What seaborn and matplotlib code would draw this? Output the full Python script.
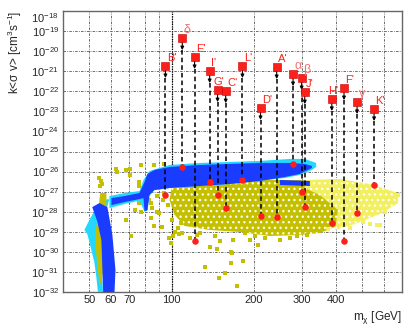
import numpy as np
import pandas as pd
import seaborn as sns
import matplotlib
matplotlib.use("Agg")
import matplotlib.pyplot as plt
from matplotlib.ticker import LogLocator, NullFormatter, FixedLocator

# benchmark points: mass [GeV], upper limit and predicted log10(k<sigma v>)
bench_names = ["B'", "δ", "E'", "I'", "G'", "C'", "L'", "D'", "A'", "α", "β", "J'", "H'", "F'", "γ", "K'"]
bench_mass = [95, 109.5, 121.5, 138, 147.5, 158, 182, 212, 243, 279, 300, 308, 387, 429, 479, 553]
bench_limit = [-20.74, -19.35, -20.29, -20.99, -21.94, -21.99, -20.74, -22.83, -20.79,
               -21.14, -21.34, -22.04, -22.38, -21.84, -22.53, -22.88]
bench_pred = [-27.17, -25.77, -29.46, -26.52, -27.17, -27.82, -26.42, -28.21, -28.26,
              -25.62, -27.02, -27.77, -28.56, -29.46, -28.06, -26.67]

# scan regions (outlines), log10(k<sigma v>)
cyan_band_mass = [59.2, 67.2, 76.3, 78.9, 83.0, 98.3, 126.8, 210.7, 271.5, 308, 339,
                  339, 327, 295.6, 260.3, 163.4, 98.3, 86.6, 83.0, 81.6, 79.6, 76.3, 67.2, 59.2]
cyan_band_logsv = [-27.22, -27.07, -26.97, -26.42, -25.97, -25.67, -25.57, -25.47, -25.37, -25.37, -25.57,
                   -25.77, -25.92, -26.17, -26.32, -26.62, -26.82, -26.92, -27.2, -27.95, -28.0, -27.45, -27.62, -27.82]

blue_band_mass = [60.2, 67.2, 76.3, 79.6, 81.6, 86.6, 98.3, 126.8, 163.4, 210.7, 271.5, 308, 327,
                  327, 295.6, 260.3, 210.7, 163.4, 126.8, 98.3, 86.6, 83.0, 81.6, 79.6, 78.9, 76.3, 67.2, 60.2]
blue_band_logsv = [-27.32, -27.22, -27.07, -26.52, -26.12, -25.92, -25.77, -25.67, -25.62, -25.57, -25.57, -25.62, -25.72,
                   -25.82, -26.12, -26.27, -26.47, -26.62, -26.72, -26.82, -26.92, -27.17, -27.92, -27.97, -27.32, -27.37, -27.52, -27.67]

blue_strip_mass = [249.5, 321.6, 321.6, 249.5]
blue_strip_logsv = [-26.42, -26.47, -26.72, -26.67]

cyan_funnel_mass = [47.9, 50.0, 53.0, 55.8, 59.2, 58.2, 54.8, 55.3, 56.2, 53.9, 53.0, 52.1, 50.0, 49.1]
cyan_funnel_logsv = [-28.91, -28.41, -27.77, -27.42, -27.37, -27.72, -28.66, -30.5, -32.2,
                     -32.2, -31.25, -30.51, -29.51, -29.11]

blue_funnel_mass = [51.2, 54.4, 58.2, 60.7, 62.3, 61.7, 56.2, 55.8, 55.3, 53.5]
blue_funnel_logsv = [-27.77, -27.57, -27.77, -29.16, -30.91, -32.2, -32.2, -30.91, -29.41, -28.51]

yellow_funnel_mass = [54.8, 57.7, 57.7, 55.8, 55.8, 56.2, 55.3, 54.4, 53.5, 52.6, 52.6, 53.9, 54.4]
yellow_funnel_logsv = [-27.07, -27.07, -27.92, -28.66, -29.91, -30.91, -31.55, -31.55, -30.66, -29.66,
                       -29.01, -28.16, -27.42]

yellow_core_mass = [100, 126.8, 210.7, 295.6, 350.1, 414.6, 432.5, 414.6, 350.1, 295.6, 229.3,
                    177.8, 137.9, 111.6, 102.6, 98.3]
yellow_core_logsv = [-26.82, -26.67, -26.42, -26.42, -26.52, -26.72, -27.42, -28.66, -29.06, -29.16, -29.21,
                     -29.01, -28.91, -28.71, -28.16, -27.42]

pale_core_mass = [308, 414.6, 534.6, 677.5, 677.5, 581.6, 470.8, 397.6, 407.8, 350.1, 308]
pale_core_logsv = [-26.42, -26.37, -26.62, -27.07, -27.57, -28.11, -28.61, -28.91, -27.92, -27.17, -26.82]

yellow_pts_mass = [54.4, 55.3, 55.8, 54.8, 62.8, 63.3, 68.3, 70.7, 70.7, 77.6, 76.3, 76.3, 86.6, 94.2,
                   68.3, 71.3, 75.0, 77.6, 84.4, 85.1, 86.6, 83.0, 90.3, 91.9, 98.3, 100, 105.2, 99.2,
                   100.9, 106.1, 107.9, 109.7, 123.6,
                   132.2, 137.9, 146.3, 150.1, 148.9, 156.6, 164.8, 164.8, 173.4, 182.4, 166.2, 185.5,
                   207.1, 167.6, 193.6, 219.8, 249.5, 288.2, 313.6, 271.5,
                   83.0, 80.9, 88.1, 92.7, 96.7, 88.8, 94.2, 84.4, 79.6, 73.7, 76.3, 102.6, 116.5,
                   126.8, 143.9, 202.0]
yellow_pts_logsv = [-26.32, -26.47, -26.62, -26.72, -25.87, -26.02, -25.92, -25.87, -26.17, -25.67, -26.52, -26.72, -25.67, -25.62,
                    -28.41, -29.21, -27.27, -28.02, -28.31, -27.82, -28.71, -27.42, -28.06, -28.76, -29.31, -28.41, -28.81, -29.56,
                    -29.21, -29.11, -28.56, -29.06, -29.16,
                    -30.76, -29.76, -29.86, -29.46, -31.30, -31.05, -30.01, -30.56, -31.70, -30.46, -30.06, -29.06,
                    -29.66, -29.41, -29.41, -29.31, -29.41, -29.21, -29.16, -29.31,
                    -26.92, -27.67, -27.22, -27.42, -27.67, -28.02, -27.07, -27.57, -27.17, -27.92, -27.57, -29.01, -29.31,
                    -29.06, -29.21, -29.21]

pale_pts_mass = [374.6, 459.0, 503.7, 534.6, 567.1, 581.6, 606.8, 644.0, 677.5, 451.2]
pale_pts_logsv = [-28.86, -28.41, -28.51, -28.61, -28.66, -28.66, -28.02, -27.52, -27.17, -28.81]

xtick_vals = [50, 60, 70, 100, 200, 300, 400]
xgrid_minor = [80, 90, 500, 600]
ytick_vals = [10.0 ** e for e in range(-32, -17)]

# colours
BLUE = "#1a3cff"
CYAN = "#22d8ff"
OLIVE = "#c4c000"
PALE = "#f2f060"
RED = "#ff1f1a"
PINK = "#f27070"

sns.set_style("white")
plt.rcParams['font.family'] = ['Liberation Sans', 'DejaVu Sans']
plt.rcParams['mathtext.fontset'] = 'custom'
plt.rcParams['mathtext.rm'] = 'Liberation Sans'
plt.rcParams['mathtext.it'] = 'Liberation Sans:italic'
plt.rcParams['mathtext.default'] = 'regular'
plt.rcParams['hatch.linewidth'] = 0.9

fig = plt.figure(figsize=(4.15, 3.29), dpi=100)
ax = fig.add_axes([63 / 415, 37 / 329, 339 / 415, 281 / 329])
ax.set_xscale('log')
ax.set_yscale('log')
ax.set_xlim(40, 700)
ax.set_ylim(1e-32, 1e-18)


def region(m, lg, color, z, speckle=False):
    if speckle:
        # scattered look of the dense point clouds
        ax.fill(m, 10 ** np.array(lg), facecolor=color, edgecolor='white', hatch='...', lw=0, zorder=z)
    else:
        ax.fill(m, 10 ** np.array(lg), color=color, lw=0, zorder=z)


# yellow scan points
region(yellow_core_mass, yellow_core_logsv, OLIVE, 2, speckle=True)
region(pale_core_mass, pale_core_logsv, PALE, 2.1, speckle=True)
yel = pd.DataFrame({'m': yellow_pts_mass, 'sv': 10 ** np.array(yellow_pts_logsv)})
sns.scatterplot(data=yel, x='m', y='sv', marker='s', s=6, color=OLIVE, linewidth=0, zorder=2.2, ax=ax)
pale = pd.DataFrame({'m': pale_pts_mass, 'sv': 10 ** np.array(pale_pts_logsv)})
sns.scatterplot(data=pale, x='m', y='sv', marker='s', s=6, color=PALE, linewidth=0, zorder=2.2, ax=ax)

# blue / cyan scan points
region(cyan_band_mass, cyan_band_logsv, CYAN, 3)
region(cyan_funnel_mass, cyan_funnel_logsv, CYAN, 3)
region(yellow_funnel_mass, yellow_funnel_logsv, OLIVE, 3.1)
region(blue_band_mass, blue_band_logsv, BLUE, 3.2)
region(blue_strip_mass, blue_strip_logsv, BLUE, 3.2)
region(blue_funnel_mass, blue_funnel_logsv, BLUE, 3.2)

# benchmark points
label_shift = {"G'": -4, "H'": -4}   # px, to keep neighbouring labels apart
bench = pd.DataFrame({'name': bench_names, 'm': bench_mass,
                      'lim': 10 ** np.array(bench_limit), 'pred': 10 ** np.array(bench_pred)})
for _, r in bench.iterrows():
    tip = r['lim'] * 10 ** -0.6
    ax.plot([r['m'], r['m']], [tip, r['pred']], color='k', ls=(0, (3, 2)), lw=1.1, zorder=5)
    ax.annotate('', xy=(r['m'], tip), xytext=(r['m'], r['lim']),
                arrowprops=dict(arrowstyle='-|>', color='k', lw=0.8, mutation_scale=5,
                                shrinkA=0, shrinkB=0), zorder=6)
    greek = not r['name'].endswith("'")
    dx = label_shift.get(r['name'], 1.5) * 0.72
    ax.annotate(r['name'], (r['m'], r['lim']), xytext=(dx, 6), textcoords='offset points',
                ha='left', va='center', color=PINK if greek else RED,
                fontsize=9 if greek else 8, zorder=9)

sns.scatterplot(data=bench, x='m', y='pred', marker='o', s=22, color=RED, linewidth=0, zorder=8, ax=ax)
sns.scatterplot(data=bench, x='m', y='lim', marker='s', s=26, color=RED, edgecolor='#c00000',
                linewidth=0.4, zorder=8, ax=ax)

# 100 GeV reference line
ax.axvline(100, color='k', ls=(0, (1, 1)), lw=0.9, zorder=1.5)

# axes, ticks, grid
ax.set_xticks(xtick_vals, labels=[str(v) for v in xtick_vals])
ax.set_xticks(xgrid_minor, minor=True)
ax.xaxis.set_minor_formatter(NullFormatter())
ax.yaxis.set_major_locator(FixedLocator(ytick_vals))
ax.yaxis.set_minor_locator(LogLocator(base=10, subs=np.arange(2, 10) * 1.0, numticks=200))
ax.yaxis.set_minor_formatter(NullFormatter())

gridstyle = dict(color='#555555', ls=(0, (3, 1.5, 1, 1.5)), lw=0.6)
ax.grid(True, axis='x', which='both', **gridstyle)
ax.grid(True, axis='y', which='major', **gridstyle)
ax.set_axisbelow(True)

ax.tick_params(axis='both', which='both', direction='in', color='#777777', labelsize=8, pad=2)
ax.tick_params(axis='both', which='major', length=6)
ax.tick_params(axis='both', which='minor', length=3)
ax.tick_params(axis='y', which='major', pad=3)
for sp in ax.spines.values():
    sp.set_color('#666666')
    sp.set_linewidth(1)

ax.set_ylabel("k<σ v> [cm$^3$s$^{-1}$]", loc='top', fontsize=8.5)
ax.yaxis.set_label_coords(-0.115, 1.0)
ax.set_xlabel("m$_{χ}$ [GeV]", loc='right', fontsize=8.5)
ax.xaxis.set_label_coords(1.0, -0.062)
ax.set_xlim(40, 700)
ax.set_ylim(1e-32, 1e-18)
for lab in ax.get_yticklabels():
    # the top label sits just under the frame, as in the reference
    lab.set_va('top' if lab.get_position()[1] >= 0.99e-18 else 'center_baseline')

fig.savefig("out.png", dpi=100)
